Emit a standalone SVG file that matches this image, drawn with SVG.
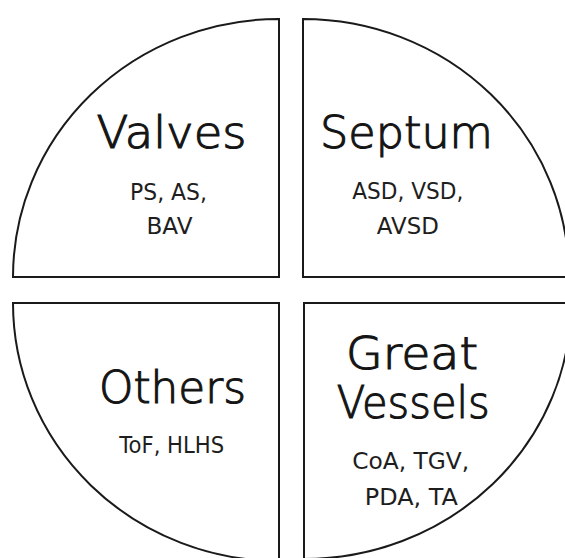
<svg xmlns="http://www.w3.org/2000/svg" width="565" height="558" viewBox="0 0 565 558">
  <style>
    .quad { fill: #ffffff; stroke: #1a1a1a; stroke-width: 2; stroke-linejoin: miter; }
    .title { font-family: "DejaVu Sans", "Liberation Sans", sans-serif; font-weight: 300; font-size: 45px; fill: #141414; stroke: #141414; stroke-width: 1.1; text-anchor: middle; }
    .sub { font-family: "DejaVu Sans", "Liberation Sans", sans-serif; font-size: 23px; fill: #1e1e1e; text-anchor: middle; }
  </style>
  <rect width="565" height="558" fill="#ffffff"/>

  <!-- top-left quarter -->
  <g id="valves">
    <path class="quad" d="M 279,277 L 13,277 A 266 258 0 0 1 279,19 Z"/>
    <text class="title" x="171.5" y="147.5" textLength="150" lengthAdjust="spacingAndGlyphs">Valves</text>
    <text class="sub" x="168.5" y="200" textLength="77" lengthAdjust="spacingAndGlyphs">PS, AS,</text>
    <text class="sub" x="169.5" y="234" textLength="46" lengthAdjust="spacingAndGlyphs">BAV</text>
  </g>

  <!-- top-right quarter -->
  <g id="septum">
    <path class="quad" d="M 303,277 L 303,19 A 266 258 0 0 1 569,277 Z"/>
    <text class="title" x="406.5" y="148.3" textLength="173" lengthAdjust="spacingAndGlyphs">Septum</text>
    <text class="sub" x="407.8" y="199.3" textLength="111" lengthAdjust="spacingAndGlyphs">ASD, VSD,</text>
    <text class="sub" x="407.8" y="234" textLength="62" lengthAdjust="spacingAndGlyphs">AVSD</text>
  </g>

  <!-- bottom-left quarter -->
  <g id="others">
    <path class="quad" d="M 279,303 L 13,303 A 266 258 0 0 0 279,561 Z"/>
    <text class="title" x="172.5" y="403.3" textLength="147" lengthAdjust="spacingAndGlyphs">Others</text>
    <text class="sub" x="171.7" y="453.3" textLength="105" lengthAdjust="spacingAndGlyphs">ToF, HLHS</text>
  </g>

  <!-- bottom-right quarter -->
  <g id="great-vessels">
    <path class="quad" d="M 304,303 L 571,303 A 267 256 0 0 1 304,559 Z"/>
    <text class="title" x="412" y="369.3" textLength="132" lengthAdjust="spacingAndGlyphs">Great</text>
    <text class="title" x="413.3" y="418.3" textLength="153" lengthAdjust="spacingAndGlyphs">Vessels</text>
    <text class="sub" x="410.7" y="469.3" textLength="117" lengthAdjust="spacingAndGlyphs">CoA, TGV,</text>
    <text class="sub" x="411.3" y="505" textLength="93" lengthAdjust="spacingAndGlyphs">PDA, TA</text>
  </g>

  <!-- no connectors in this figure -->
  <g id="connectors"/>
</svg>
